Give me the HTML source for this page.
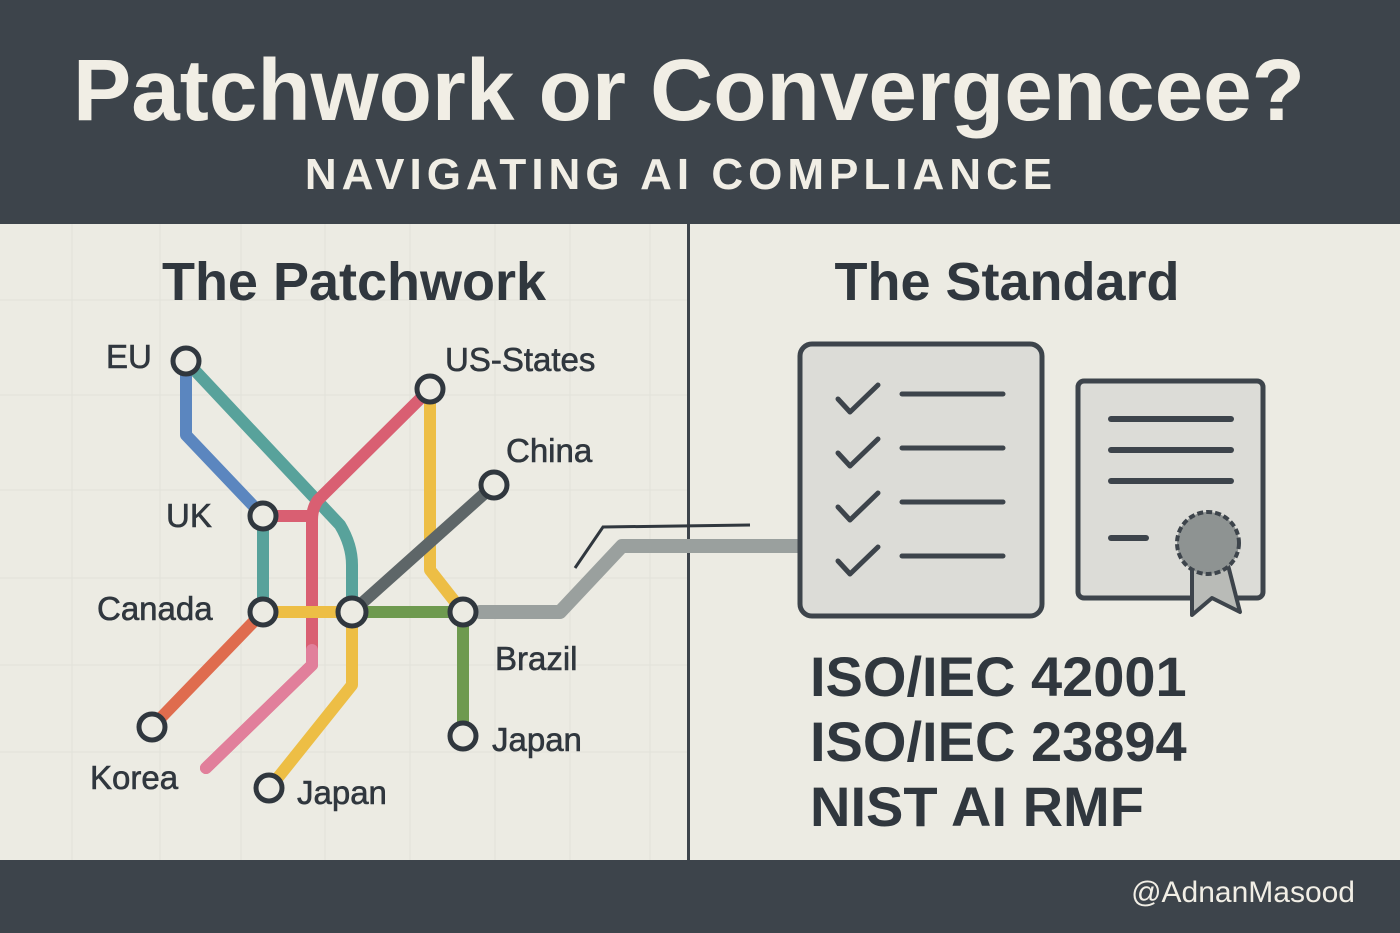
<!DOCTYPE html>
<html><head><meta charset="utf-8"><style>
html,body{margin:0;padding:0;width:1400px;height:933px;overflow:hidden;background:#ecebe3}
svg{display:block}
text{font-family:"Liberation Sans",sans-serif}
</style></head><body>
<svg width="1400" height="933" viewBox="0 0 1400 933" xmlns="http://www.w3.org/2000/svg">
<rect x="0" y="0" width="1400" height="933" fill="#ecebe3"/>
<g stroke="#e2e1d9" stroke-width="1">
<line x1="0" y1="300" x2="689" y2="300"/><line x1="0" y1="395" x2="689" y2="395"/><line x1="0" y1="490" x2="689" y2="490"/><line x1="0" y1="578" x2="689" y2="578"/><line x1="0" y1="665" x2="689" y2="665"/><line x1="0" y1="752" x2="689" y2="752"/>
<line x1="72" y1="224" x2="72" y2="860"/><line x1="160" y1="224" x2="160" y2="860"/><line x1="241" y1="224" x2="241" y2="860"/><line x1="325" y1="224" x2="325" y2="860"/><line x1="410" y1="224" x2="410" y2="860"/><line x1="495" y1="224" x2="495" y2="860"/><line x1="570" y1="224" x2="570" y2="860"/><line x1="650" y1="224" x2="650" y2="860"/>
</g>
<rect x="0" y="0" width="1400" height="224" fill="#3d444b"/>
<rect x="0" y="860" width="1400" height="73" fill="#3d444b"/>
<rect x="687" y="224" width="3" height="636" fill="#3d444b"/>
<text x="689" y="120" text-anchor="middle" font-size="87" font-weight="bold" fill="#f1eee5" textLength="1232" lengthAdjust="spacingAndGlyphs">Patchwork or Convergencee?</text>
<text x="681" y="189" text-anchor="middle" font-size="44" font-weight="bold" letter-spacing="5" fill="#f1eee5">NAVIGATING AI COMPLIANCE</text>
<text x="354" y="300" text-anchor="middle" font-size="54" font-weight="bold" fill="#30373e">The Patchwork</text>
<text x="1007" y="300" text-anchor="middle" font-size="54" font-weight="bold" fill="#30373e">The Standard</text>
<g fill="none" stroke-linecap="round" stroke-linejoin="round" stroke-width="12">
<path d="M480,612 L560,612 L622,546 L800,546" stroke="#9aa09e" stroke-width="14"/>
<path d="M186,361 L186,435 L263,516" stroke="#5b86bf"/>
<path d="M186,361 L340,525 Q352,545 352,565 L352,612" stroke="#58a29b"/>
<path d="M263,516 L263,612" stroke="#58a29b"/>
<path d="M430,389 L318,500 Q312,508 312,520 L312,665 L206,768" stroke="#d95f72"/>
<path d="M263,516 L312,516" stroke="#d95f72"/>
<path d="M312,650 L312,665 L206,768" stroke="#e17f9b"/>
<path d="M430,389 L430,570 L463,612" stroke="#edbe45"/>
<path d="M263,612 L352,612" stroke="#edbe45"/>
<path d="M352,612 L352,685 L272,785" stroke="#edbe45"/>
<path d="M494,485 L352,612" stroke="#5e6668"/>
<path d="M352,612 L463,612 L463,736" stroke="#6e9a4f"/>
<path d="M263,612 L152,727" stroke="#df6c4e"/>
</g>
<path d="M575,568 L603,527 L750,525" fill="none" stroke="#30373e" stroke-width="3"/>
<g fill="#ecebe3" stroke="#30373e" stroke-width="5">
<circle cx="186" cy="361" r="13"/><circle cx="430" cy="389" r="13"/><circle cx="494" cy="485" r="13"/><circle cx="263" cy="516" r="13"/><circle cx="263" cy="612" r="13"/><circle cx="352" cy="612" r="14"/><circle cx="463" cy="612" r="13"/><circle cx="463" cy="736" r="13"/><circle cx="152" cy="727" r="13"/><circle cx="269" cy="788" r="13"/>
</g>
<g font-size="33" fill="#30373e" stroke="#30373e" stroke-width="0.6">
<text x="106" y="368">EU</text><text x="445" y="371">US-States</text><text x="506" y="462">China</text><text x="166" y="527">UK</text><text x="97" y="620">Canada</text><text x="495" y="670">Brazil</text><text x="492" y="751">Japan</text><text x="90" y="789">Korea</text><text x="297" y="804">Japan</text>
</g>
<rect x="800" y="344" width="242" height="272" rx="12" fill="#dcdcd7" stroke="#3d444b" stroke-width="5"/>
<g fill="none" stroke="#3d444b" stroke-width="5" stroke-linecap="round" stroke-linejoin="round">
<path d="M838,399 L850,412 L878,385"/><path d="M838,453 L850,466 L878,439"/><path d="M838,507 L850,520 L878,493"/><path d="M838,561 L850,574 L878,547"/>
<path d="M902,394 L1003,394"/><path d="M902,448 L1003,448"/><path d="M902,502 L1003,502"/><path d="M902,556 L1003,556"/>
</g>
<rect x="1078" y="381" width="185" height="217" rx="6" fill="#dcdcd7" stroke="#3d444b" stroke-width="5"/>
<g stroke="#3d444b" stroke-width="6" stroke-linecap="round">
<line x1="1111" y1="419" x2="1231" y2="419"/><line x1="1111" y1="450" x2="1231" y2="450"/><line x1="1111" y1="481" x2="1231" y2="481"/><line x1="1111" y1="538" x2="1146" y2="538"/>
</g>
<path d="M1192,565 L1192,615 L1212,598 L1240,612 L1228,565 Z" fill="#b9bbb7" stroke="#3d444b" stroke-width="4" stroke-linejoin="round"/>
<circle cx="1208" cy="543" r="31" fill="#8e9392" stroke="#3d444b" stroke-width="4" stroke-dasharray="6 3"/>
<circle cx="1208" cy="543" r="27" fill="#8e9392"/>
<g font-size="56" font-weight="bold" fill="#30373e">
<text x="810" y="696">ISO/IEC 42001</text><text x="810" y="761">ISO/IEC 23894</text><text x="810" y="826">NIST AI RMF</text>
</g>
<text x="1355" y="902" text-anchor="end" font-size="30" fill="#f1eee5">@AdnanMasood</text>
</svg>
</body></html>
